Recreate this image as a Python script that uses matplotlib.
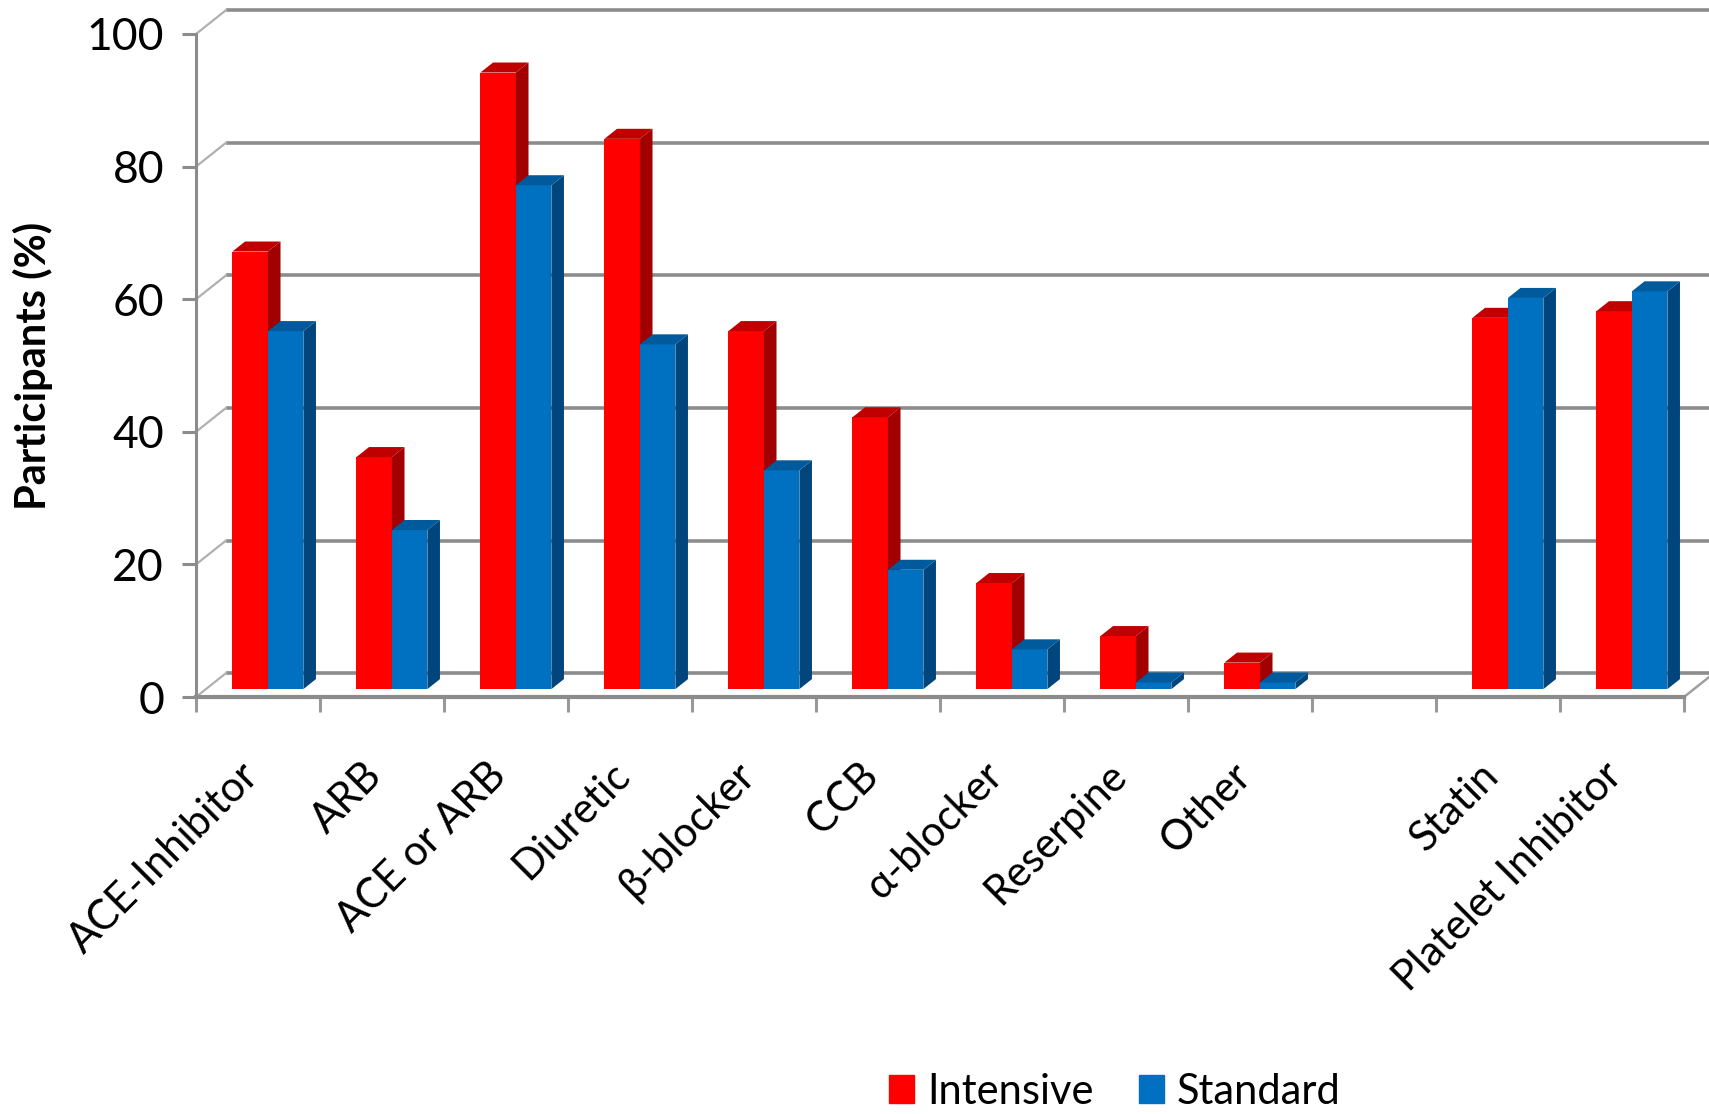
import numpy as np
import matplotlib

matplotlib.use("Agg")
import matplotlib.pyplot as plt
from matplotlib.patches import Patch, Polygon
from matplotlib.transforms import ScaledTranslation

categories = ["ACE-Inhibitor", "ARB", "ACE or ARB", "Diuretic", "β-blocker", "CCB",
              "α-blocker", "Reserpine", "Other", "", "Statin", "Platelet Inhibitor"]
intensive = [66, 35, 93, 83, 54, 41, 16, 8, 4, None, 56, 57]
standard = [54, 24, 76, 52, 33, 18, 6, 1, 1, None, 59, 60]
y_ticks = [0, 20, 40, 60, 80, 100]
series_names = ["Intensive", "Standard"]

# front / side / top shades
RED = ("#ff0000", "#a20000", "#c00000")
BLUE = ("#0070c0", "#00467c", "#005a9c")
GRID = "#8c8c8c"
FONT = ["Lato", "DejaVu Sans"]

plt.rcParams["font.family"] = FONT

W, H = 1709, 1114
DX, DY = 0.242, 3.6        # depth of the 3d box in data units
POS = 0.33                 # where the bars sit inside the depth
BAR_W = 0.286
BAR_D = 0.42

fig = plt.figure(figsize=(W / 100, H / 100), dpi=100)
ax = fig.add_axes([196 / W, 1 - 697 / H, (1684 - 196) / W, (697 - 34) / H])
ax.set_xlim(-0.5, len(categories) - 0.5)
ax.set_ylim(0, 100)
x_lo, x_hi = ax.get_xlim()

# back wall gridlines + side wall diagonals
for v in y_ticks:
    ax.plot([x_lo + DX, x_hi + DX], [v + DY, v + DY], color=GRID, lw=2.6,
            clip_on=False, zorder=1, solid_capstyle="butt")
    ax.plot([x_lo, x_lo + DX], [v, v + DY], color="#b0b0b0", lw=1.6,
            clip_on=False, zorder=1)
ax.plot([x_hi, x_hi + DX], [0, DY], color="#a0a0a0", lw=1.8, clip_on=False, zorder=1)

z = [3.0]


def draw_bar(left, bottom, value, shades):
    front, side, top = shades
    ax.bar(left, value, width=BAR_W, bottom=bottom, align="edge", color=front,
           linewidth=0, zorder=z[0])
    ddx, ddy = BAR_D * DX, BAR_D * DY
    r, t = left + BAR_W, bottom + value
    ax.add_patch(Polygon([(r, bottom), (r + ddx, bottom + ddy), (r + ddx, t + ddy), (r, t)],
                         closed=True, color=side, linewidth=0, zorder=z[0] + 0.01))
    ax.add_patch(Polygon([(left, t), (left + ddx, t + ddy), (r + ddx, t + ddy), (r, t)],
                         closed=True, color=top, linewidth=0, zorder=z[0] + 0.02))
    z[0] += 0.1


for i, (a, b) in enumerate(zip(intensive, standard)):
    if a is None:
        continue
    cx = i + POS * DX
    base = POS * DY
    draw_bar(cx - BAR_W, base, a, RED)
    draw_bar(cx, base, b, BLUE)

for side in ("top", "right"):
    ax.spines[side].set_visible(False)
ax.spines["left"].set_color(GRID)
ax.spines["left"].set_linewidth(2.2)
ax.spines["bottom"].set_color(GRID)
ax.spines["bottom"].set_linewidth(3.0)

ax.set_yticks(y_ticks)
ax.tick_params(axis="y", direction="out", length=10, width=2.2, color=GRID,
               labelsize=32, pad=13)
ax.set_xticks(range(len(categories)))
ax.set_xticklabels(categories, rotation=45, ha="right", va="center",
                   rotation_mode="anchor", fontsize=30)
ax.set_xticks(np.arange(x_lo, x_hi + 0.01, 1.0), minor=True)
ax.tick_params(axis="x", which="major", length=0, pad=52)
ax.tick_params(axis="x", which="minor", direction="out", length=11, width=2.2,
               color="#999999")
shift = ScaledTranslation(-6 / 100, 0, fig.dpi_scale_trans)
for lab in ax.get_xticklabels():
    lab.set_transform(lab.get_transform() + shift)

ax.set_ylabel("Participants (%)", fontsize=30, fontweight="bold", va="center")
ax.yaxis.set_label_coords((33 - 196) / (1684 - 196), 0.5)

handles = [Patch(color=RED[0]), Patch(color=BLUE[0])]
fig.legend(handles, series_names, loc="center", bbox_to_anchor=(1115 / W, 1 - 1092 / H),
           ncol=2, frameon=False, fontsize=30, handlelength=0.6, handleheight=0.65,
           handletextpad=0.3, columnspacing=1.1, borderaxespad=0, borderpad=0)

fig.savefig("out.png", dpi=100)
